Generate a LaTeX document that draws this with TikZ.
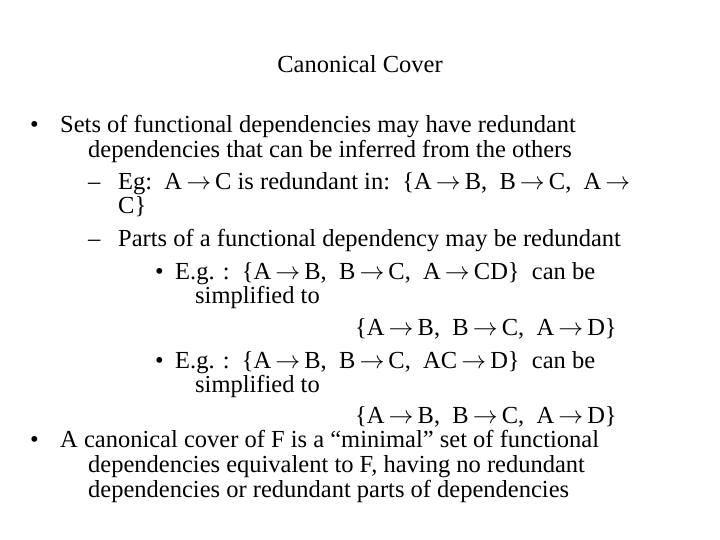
\documentclass[tikz,border=0pt]{standalone}
\usepackage{fontspec}
\setmainfont{Liberation Serif}
\newcommand{\ar}{\,$\rightarrow$\,}
\begin{document}
\begin{tikzpicture}[x=1pt,y=-1pt,
  t/.style={anchor=base west,inner sep=0pt,font=\fontsize{24.5}{28}\selectfont}]
\useasboundingbox[fill=white] (0,0) rectangle (720,540);
\node[t,anchor=base] (title) at (360,73) {Canonical Cover};
\node[t] (b1) at (30,133) {•};
\node[t] (l1) at (60,133) {Sets of functional dependencies may have redundant};
\node[t] (l2) at (88,158) {dependencies that can be inferred from the others};
\node[t] (d1) at (88,190) {–};
\node[t] (l3) at (118,190) {Eg:\ \ A\ar C is redundant in:\ \ \{A\ar B,\ \ B\ar C,\ \ A\ar};
\node[t] (l4) at (118,214) {C\}};
\node[t] (d2) at (88,246) {–};
\node[t] (l5) at (118,246) {Parts of a functional dependency may be redundant};
\node[t] (b2) at (155,279) {•};
\node[t] (l6) at (175,279) {E.g. :\ \ \{A\ar B,\ \ B\ar C,\ \ A\ar CD\}\ \ can be};
\node[t] (l7) at (195,303) {simplified to};
\node[t] (l8) at (355,335) {\{A\ar B,\ \ B\ar C,\ \ A\ar D\}};
\node[t] (b3) at (155,368) {•};
\node[t] (l9) at (175,368) {E.g. :\ \ \{A\ar B,\ \ B\ar C,\ \ AC\ar D\}\ \ can be};
\node[t] (l10) at (195,392) {simplified to};
\node[t] (l11) at (355,423) {\{A\ar B,\ \ B\ar C,\ \ A\ar D\}};
\node[t] (b4) at (30,447) {•};
\node[t] (l12) at (60,447) {A canonical cover of F is a “minimal” set of functional};
\node[t] (l13) at (88,472) {dependencies equivalent to F, having no redundant};
\node[t] (l14) at (88,497) {dependencies or redundant parts of dependencies};
\end{tikzpicture}
\end{document}
